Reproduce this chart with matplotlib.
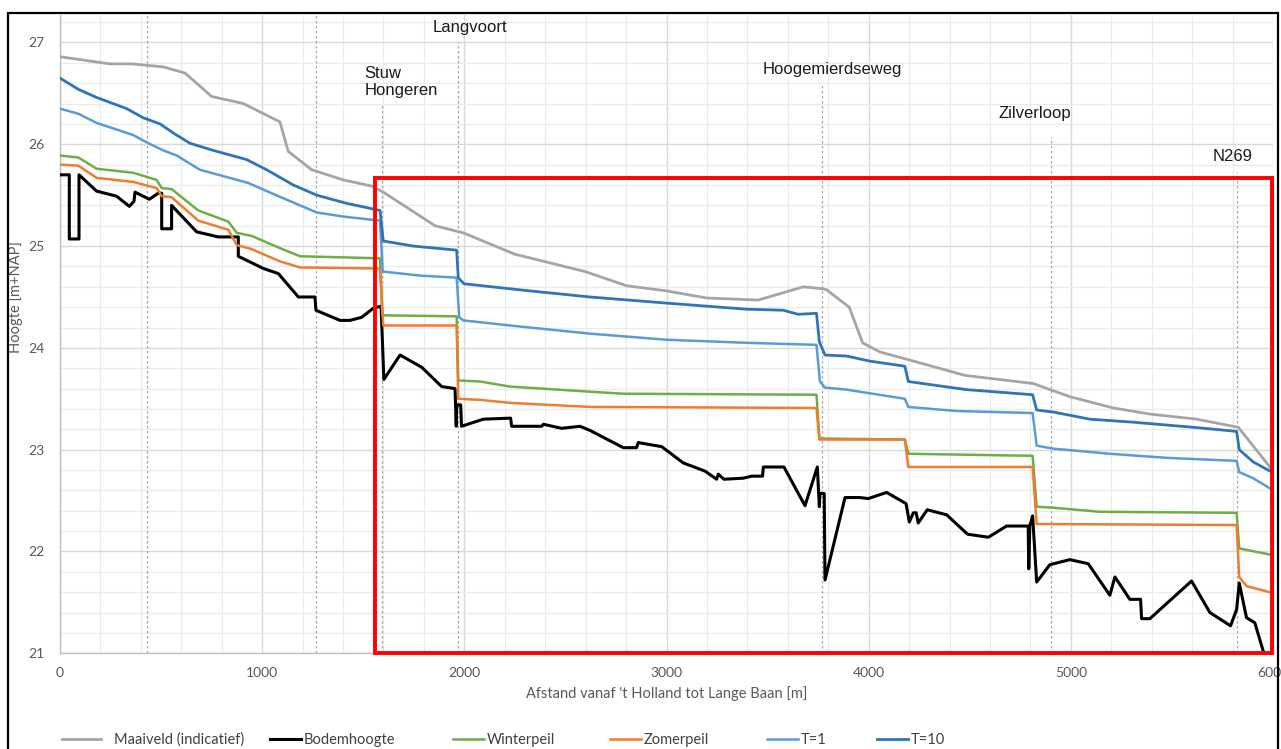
#
# Lengteprofiel 't Holland - Lange Baan: maaiveld, bodemhoogte, peilen en waterstanden T=1 / T=10
#

import matplotlib
matplotlib.use("Agg")
import matplotlib.pyplot as plt
from matplotlib.lines import Line2D
from matplotlib.patches import Rectangle
from matplotlib.ticker import MultipleLocator

# Maaiveld (indicatief)
maaiveld_x = [0, 247, 354, 511, 618, 750, 907, 1088, 1129, 1245, 1401, 1541, 1599, 1855, 1995,
              2250, 2597, 2803, 3000, 3198, 3454, 3677, 3775, 3792, 3904, 3970, 4055, 4204, 4476,
              4814, 4996, 5210, 5391, 5622, 5828, 5985]
maaiveld_y = [26.86, 26.79, 26.79, 26.76, 26.70, 26.47, 26.40, 26.22, 25.93, 25.75, 25.65, 25.59,
              25.53, 25.20, 25.13, 24.92, 24.75, 24.61, 24.56, 24.49, 24.47, 24.60, 24.58, 24.57,
              24.40, 24.05, 23.96, 23.88, 23.73, 23.65, 23.52, 23.41, 23.35, 23.30, 23.22, 22.83]

# Bodemhoogte
bodem_x = [0, 46, 46, 94, 94, 181, 280, 343, 366, 371, 442, 486, 503, 503, 552, 552, 676, 783,
           882, 882, 1006, 1080, 1179, 1261, 1266, 1385, 1434, 1492, 1550, 1588, 1602, 1682, 1789,
           1888, 1954, 1960, 1962, 1982, 1986, 2094, 2229, 2234, 2383, 2391, 2481, 2572, 2621,
           2786, 2852, 2860, 2976, 3083, 3190, 3248, 3256, 3284, 3380, 3421, 3475, 3479, 3581,
           3685, 3746, 3756, 3759, 3780, 3784, 3883, 3957, 3998, 4089, 4185, 4201, 4221, 4235,
           4245, 4290, 4386, 4489, 4592, 4682, 4789, 4792, 4797, 4811, 4831, 4896, 4995, 5086,
           5193, 5218, 5292, 5345, 5350, 5391, 5597, 5688, 5790, 5820, 5833, 5869, 5910, 5955]
bodem_y = [25.70, 25.70, 25.07, 25.07, 25.70, 25.54, 25.49, 25.39, 25.44, 25.53, 25.46, 25.52,
           25.52, 25.17, 25.17, 25.40, 25.14, 25.09, 25.09, 24.90, 24.78, 24.73, 24.50, 24.50,
           24.37, 24.27, 24.27, 24.30, 24.39, 24.41, 23.69, 23.93, 23.81, 23.62, 23.60, 23.23,
           23.44, 23.44, 23.23, 23.30, 23.31, 23.23, 23.23, 23.25, 23.21, 23.23, 23.19, 23.02,
           23.02, 23.07, 23.03, 22.87, 22.79, 22.71, 22.76, 22.71, 22.72, 22.74, 22.74, 22.83,
           22.83, 22.45, 22.83, 22.44, 22.57, 22.57, 21.72, 22.53, 22.53, 22.52, 22.58, 22.47,
           22.29, 22.38, 22.38, 22.28, 22.41, 22.36, 22.17, 22.14, 22.25, 22.25, 21.83, 22.25,
           22.35, 21.70, 21.87, 21.92, 21.88, 21.57, 21.75, 21.53, 21.53, 21.34, 21.34, 21.71,
           21.40, 21.27, 21.43, 21.69, 21.35, 21.30, 21.00]

# Winterpeil
winter_x = [0, 91, 181, 363, 478, 503, 552, 684, 833, 874, 948, 1088, 1187, 1583, 1594, 1962,
            1970, 2077, 2226, 2621, 2786, 3742, 3756, 4179, 4196, 4811, 4831, 4913, 5144, 5820,
            5833, 5985]
winter_y = [25.89, 25.87, 25.76, 25.72, 25.65, 25.57, 25.56, 25.35, 25.24, 25.13, 25.10, 24.98,
            24.90, 24.88, 24.32, 24.31, 23.68, 23.67, 23.62, 23.57, 23.55, 23.54, 23.11, 23.10,
            22.96, 22.94, 22.44, 22.43, 22.39, 22.38, 22.03, 21.97]

# Zomerpeil
zomer_x = [0, 91, 181, 363, 478, 503, 552, 684, 833, 874, 948, 1088, 1187, 1583, 1599, 1962,
           1970, 2077, 2226, 2621, 3742, 3756, 4179, 4196, 4811, 4831, 5820, 5833, 5869, 5985]
zomer_y = [25.80, 25.79, 25.67, 25.63, 25.57, 25.49, 25.48, 25.25, 25.16, 25.01, 24.97, 24.85,
           24.79, 24.78, 24.22, 24.22, 23.50, 23.49, 23.46, 23.42, 23.41, 23.10, 23.10, 22.83,
           22.83, 22.27, 22.26, 21.75, 21.66, 21.60]

# T=1
t1_x = [0, 91, 181, 363, 437, 511, 577, 692, 931, 1104, 1270, 1401, 1583, 1596, 1781, 1962,
        1975, 1995, 2275, 2621, 3000, 3396, 3742, 3759, 3784, 3891, 4179, 4196, 4435, 4811,
        4831, 4913, 5193, 5474, 5820, 5833, 5902, 5985]
t1_y = [26.35, 26.30, 26.21, 26.09, 26.01, 25.94, 25.89, 25.75, 25.62, 25.47, 25.33, 25.29,
        25.25, 24.75, 24.71, 24.69, 24.30, 24.27, 24.21, 24.14, 24.08, 24.05, 24.03, 23.67,
        23.61, 23.59, 23.50, 23.42, 23.38, 23.36, 23.04, 23.01, 22.96, 22.92, 22.89, 22.78,
        22.72, 22.62]

# T=10
t10_x = [0, 91, 181, 330, 412, 495, 561, 643, 758, 923, 1022, 1154, 1270, 1418, 1583, 1599,
         1748, 1962, 1970, 1998, 2275, 2621, 3000, 3198, 3396, 3577, 3652, 3742, 3756, 3784,
         3891, 4006, 4179, 4196, 4303, 4484, 4811, 4831, 4913, 5094, 5309, 5605, 5820, 5833,
         5902, 5985]
t10_y = [26.65, 26.54, 26.46, 26.35, 26.26, 26.20, 26.11, 26.01, 25.94, 25.85, 25.75, 25.60,
         25.50, 25.42, 25.35, 25.05, 25.00, 24.96, 24.69, 24.63, 24.57, 24.50, 24.44, 24.41,
         24.38, 24.37, 24.33, 24.34, 24.06, 23.93, 23.92, 23.87, 23.82, 23.67, 23.64, 23.59,
         23.54, 23.39, 23.37, 23.30, 23.27, 23.22, 23.18, 23.00, 22.88, 22.79]

# Kunstwerken / kruisingen langs het traject
locaties = ["Stuw\nHongeren", "Langvoort", "Hoogemierdseweg", "Zilverloop", "N269"]
locatie_x = [1595, 1967, 3770, 4902, 5822]
locatie_top = [26.39, 27.0, 26.60, 26.07, 25.73]
extra_lijnen_x = [428, 1264]

series = [
    ("Maaiveld (indicatief)", maaiveld_x, maaiveld_y, "#A5A5A5", 2.0),
    ("Bodemhoogte", bodem_x, bodem_y, "#000000", 2.2),
    ("Winterpeil", winter_x, winter_y, "#70AD47", 1.8),
    ("Zomerpeil", zomer_x, zomer_y, "#ED7D31", 1.8),
    ("T=1", t1_x, t1_y, "#5B9BD5", 1.8),
    ("T=10", t10_x, t10_y, "#2E75B6", 2.0),
]

W, H = 1281, 749
fig = plt.figure(figsize=(W / 100, H / 100), dpi=100)
ax = fig.add_axes([60 / W, 1 - 653.3 / H, (1273 - 60) / W, (653.3 - 15) / H])

ax.set_xlim(0, 6000)
ax.set_ylim(21, 27.27)
ax.xaxis.set_major_locator(MultipleLocator(1000))
ax.xaxis.set_minor_locator(MultipleLocator(200))
ax.yaxis.set_major_locator(MultipleLocator(1))
ax.yaxis.set_minor_locator(MultipleLocator(0.2))
ax.grid(which="major", color="#D9D9D9", lw=1.0, zorder=0)
ax.grid(which="minor", color="#EBEBEB", lw=0.9, zorder=0)
ax.set_axisbelow(True)
for s in ["top", "right"]:
    ax.spines[s].set_visible(False)
for s in ["left", "bottom"]:
    ax.spines[s].set_color("#BFBFBF")
    ax.spines[s].set_linewidth(1.0)
ax.tick_params(which="both", length=0)
ax.tick_params(axis="y", pad=11, labelsize=10, labelcolor="#595959")
ax.tick_params(axis="x", pad=10, labelsize=10, labelcolor="#595959")
for lbl in ax.get_xticklabels() + ax.get_yticklabels():
    lbl.set_fontfamily("Lato")

ax.set_xlabel("Afstand vanaf 't Holland tot Lange Baan [m]", fontsize=10.5, color="#595959",
              family="Lato", labelpad=5)
ax.set_ylabel("Hoogte [m+NAP]", fontsize=10.5, color="#595959", family="Lato")
ax.yaxis.set_label_coords(-0.0305, 0.558)

# verticale stippellijnen
for xv in extra_lijnen_x:
    ax.plot([xv, xv], [21, 27.27], color="#A6A6A6", lw=0.9, ls=(0, (2, 2)), zorder=1)
for xv, top in zip(locatie_x, locatie_top):
    ax.plot([xv, xv], [21, top], color="#A6A6A6", lw=0.9, ls=(0, (2, 2)), zorder=1)

# labels bij locaties
label_pos = [(1505, 26.61), (1845, 27.15), (3477, 26.73), (4644, 26.30), (5703, 25.88)]
for txt, (tx, ty) in zip(locaties, label_pos):
    ax.text(tx, ty, txt, fontsize=12, family="Liberation Sans", color="#1a1a1a",
            ha="left", va="center", linespacing=1.2, clip_on=False)

handles = []
for name, xs, ys, col, lw in series:
    ln, = ax.plot(xs, ys, color=col, lw=lw, solid_joinstyle="round", label=name, zorder=3)
    handles.append(ln)

# rode kader om het deel van het traject na de stuw
ax.add_patch(Rectangle((1558, 21), 5994 - 1558, 25.67 - 21, fill=False, ec="#FF0000",
                       lw=2.8, zorder=5, clip_on=False))

# legenda, elk item los geplaatst
leg_x = [62, 270, 453, 610, 767, 877]
leg_handlelen = [2.7, 2.1, 2.1, 2.1, 2.1, 2.1]
leg_pad = [0.9, 0.2, 0.2, 0.2, 0.2, 0.2]
for h, lx, hl, tp in zip(handles, leg_x, leg_handlelen, leg_pad):
    lg = fig.legend([Line2D([], [], color=h.get_color(), lw=h.get_linewidth())],
                    [h.get_label()], loc="center left",
                    bbox_to_anchor=(lx / W, 1 - 740 / H), frameon=False,
                    handlelength=hl, handletextpad=tp, borderpad=0, borderaxespad=0,
                    prop={"family": "Lato", "size": 10.5})
    for t in lg.get_texts():
        t.set_color("#404040")

# kader om de hele figuur
fig.add_artist(Rectangle((8 / W, -0.05), (1278 - 8) / W, 1 - 13 / H + 0.05,
                         transform=fig.transFigure, fill=False, ec="black", lw=1.6))

fig.savefig("out.png", dpi=100)
